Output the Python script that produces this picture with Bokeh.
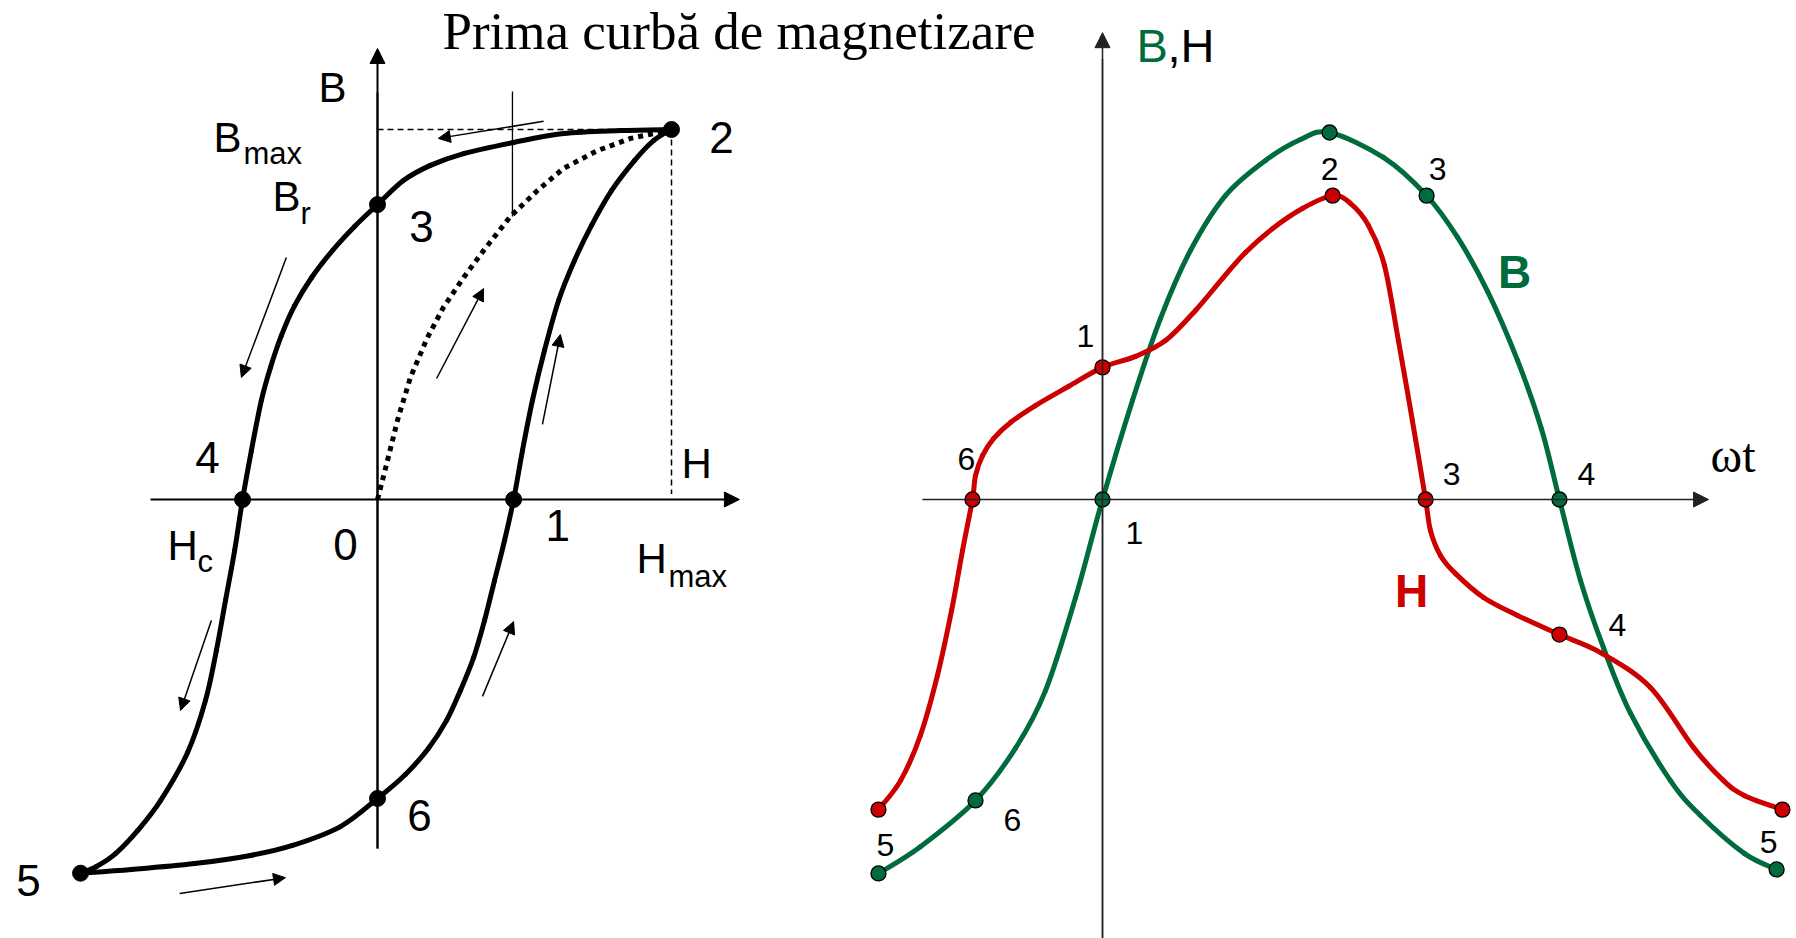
from bokeh.plotting import figure
from bokeh.models import Range1d, Arrow, NormalHead, ColumnDataSource
from bokeh.core.properties import value
from bokeh.embed import file_html
from bokeh.resources import INLINE

# ---------------- Hysteresis loop B(H), normalised so H_max = B_max = 1 ----------------
H_MAX = 1.0
B_MAX = 1.0

# descending branch 2 -> 3 -> 4 -> 5
desc_H = [1.0, 0.827, 0.633, 0.463, 0.293, 0.180, 0.088, 0.0, -0.078, -0.153, -0.224,
          -0.282, -0.327, -0.364, -0.395, -0.429, -0.459, -0.486, -0.517, -0.548, -0.585,
          -0.646, -0.738, -0.816, -0.891, -0.956, -1.01]
desc_B = [1.0, 0.997, 0.989, 0.965, 0.935, 0.903, 0.862, 0.797, 0.738, 0.673, 0.600,
          0.524, 0.443, 0.357, 0.268, 0.132, 0.0, -0.138, -0.273, -0.408, -0.543,
          -0.684, -0.814, -0.895, -0.957, -0.992, -1.01]

# ascending branch 5 -> 6 -> 1 -> 2
asc_H = [-1.01, -0.837, -0.622, -0.432, -0.289, -0.126, 0.0, 0.095, 0.173, 0.235, 0.282,
         0.327, 0.364, 0.398, 0.432, 0.463, 0.493, 0.527, 0.568, 0.616, 0.670, 0.728,
         0.796, 0.874, 0.939, 1.0]
asc_B = [-1.01, -1.0, -0.984, -0.962, -0.935, -0.884, -0.808, -0.743, -0.673, -0.597, -0.516,
         -0.427, -0.327, -0.219, -0.111, 0.0, 0.132, 0.268, 0.403, 0.538, 0.646, 0.741,
         0.835, 0.916, 0.970, 1.0]

# first magnetisation curve 0 -> 2
init_H = [0.0, 0.034, 0.068, 0.112, 0.170, 0.224, 0.293, 0.361, 0.452, 0.544, 0.633,
          0.748, 0.861, 0.939, 1.0]
init_B = [0.0, 0.105, 0.214, 0.330, 0.438, 0.519, 0.600, 0.673, 0.765, 0.835, 0.895,
          0.943, 0.976, 0.989, 1.0]

loop_labels = ["1", "2", "3", "4", "5", "6"]
loop_H = [0.463, 1.0, 0.0, -0.459, -1.01, 0.0]
loop_B = [0.0, 1.0, 0.797, 0.0, -1.01, -0.808]
loop_dx = [44, 50, 44, -35, -52, 42]
loop_dy = [26, 8, 22, -42, 7, 17]

# ---------------- B(wt) and H(wt), wt in degrees ----------------
wt_B = [-88.2, -71.7, -50.0, -34.3, -22.4, -10.6, 0.0, 11.8, 22.8, 34.6, 48.4, 64.2, 78.0,
        89.4, 110.6, 127.6, 139.8, 151.6, 163.4, 172.8, 179.9, 188.2, 197.2, 207.9,
        223.6, 235.4, 252.8, 265.4]
B_t = [-1.019, -0.946, -0.820, -0.678, -0.520, -0.267, 0.0, 0.270, 0.493, 0.678, 0.828,
       0.924, 0.981, 1.0, 0.932, 0.828, 0.714, 0.567, 0.379, 0.193, 0.0, -0.221, -0.403,
       -0.583, -0.766, -0.861, -0.965, -1.008]

wt_H = [-88.2, -79.5, -71.7, -65.0, -59.4, -55.1, -51.2, -50.0, -47.2, -42.9, -36.2, -26.4,
        -13.4, 0.0, 13.0, 24.8, 36.6, 47.2, 56.3, 66.9, 78.7, 90.6, 97.6, 104.7, 111.0,
        116.5, 122.0, 127.2, 129.1, 133.1, 139.0, 150.0, 163.4, 179.9, 196.1, 215.7,
        232.7, 244.5, 252.8, 267.7]
H_t = [-0.845, -0.766, -0.643, -0.480, -0.302, -0.139, 0.0, 0.065, 0.120, 0.166, 0.210,
       0.256, 0.308, 0.360, 0.390, 0.433, 0.515, 0.602, 0.673, 0.738, 0.793, 0.828, 0.807,
       0.747, 0.638, 0.433, 0.215, 0.0, -0.084, -0.153, -0.202, -0.267, -0.316, -0.368,
       -0.417, -0.512, -0.676, -0.766, -0.807, -0.845]

B_pt_wt = [-88.2, -50.0, 0.0, 89.4, 127.6, 179.9, 265.4]
B_pt_val = [-1.019, -0.820, 0.0, 1.0, 0.828, 0.0, -1.008]
B_pt_labels = ["5", "6", "1", "2", "3", "4", "5"]
B_pt_dx = [7, 37, 32, 0, 11, 27, -8]
B_pt_dy = [-28, 20, 33, 36, -27, -26, -27]

H_pt_wt = [-88.2, -51.2, 0.0, 90.6, 127.2, 179.9, 267.7]
H_pt_val = [-0.845, 0.0, 0.360, 0.828, 0.0, -0.368, -0.845]
H_pt_labels = ["", "6", "1", "", "3", "4", ""]
H_pt_dx = [0, -6, -17, 0, 26, 58, 0]
H_pt_dy = [0, -41, -31, 0, -26, -10, 0]

GREEN = "#006B3C"
RED = "#CC0000"
SANS = "Liberation Sans"
SERIF = "Liberation Serif"

p = figure(width=1796, height=938, output_backend="svg", toolbar_location=None,
           x_axis_type=None, y_axis_type=None, min_border=0,
           x_range=Range1d(-377 / 294, 1419 / 294), y_range=Range1d(-439 / 370, 499 / 370))
p.extra_x_ranges = {"wt": Range1d(-1102 / 2.54, 694 / 2.54)}
p.extra_y_ranges = {"bh": Range1d(-439 / 367, 499 / 367)}
p.grid.visible = False
p.outline_line_color = None
p.background_fill_color = "white"
p.border_fill_color = "white"


def smooth_curve(xs, ys, color, width, xr="default", yr="default"):
    """Draw a curve through the given points as Catmull-Rom cubic Bezier pieces."""
    n = len(xs)
    seg = dict(x0=[], y0=[], x1=[], y1=[], cx0=[], cy0=[], cx1=[], cy1=[])
    for i in range(n - 1):
        a = i - 1 if i > 0 else i
        d = i + 2 if i + 2 < n else i + 1
        seg["x0"].append(xs[i])
        seg["y0"].append(ys[i])
        seg["x1"].append(xs[i + 1])
        seg["y1"].append(ys[i + 1])
        seg["cx0"].append(xs[i] + (xs[i + 1] - xs[a]) / 6)
        seg["cy0"].append(ys[i] + (ys[i + 1] - ys[a]) / 6)
        seg["cx1"].append(xs[i + 1] - (xs[d] - xs[i]) / 6)
        seg["cy1"].append(ys[i + 1] - (ys[d] - ys[i]) / 6)
    p.bezier(source=ColumnDataSource(seg), x0="x0", y0="y0", x1="x1", y1="y1",
             cx0="cx0", cy0="cy0", cx1="cx1", cy1="cy1", line_color=color,
             line_width=width, line_cap="round", x_range_name=xr, y_range_name=yr)


def arrow(x0, y0, x1, y1, width=1.5, head=12, color="black", xr="default", yr="default"):
    p.add_layout(Arrow(x_start=x0, y_start=y0, x_end=x1, y_end=y1, line_width=width,
                       line_color=color, x_range_name=xr, y_range_name=yr,
                       end=NormalHead(size=head, fill_color=color, line_color=color,
                                      line_width=1)))


def text(x, y, s, size, color="black", font=SANS, style="normal", align="center",
         dx=0, dy=0, xr="default", yr="default"):
    p.text(x=[x], y=[y], text=[s], text_font=value(font), text_font_size=f"{size}px",
           text_color=color, text_font_style=style, text_align=align,
           text_baseline="middle", x_offset=dx, y_offset=dy,
           x_range_name=xr, y_range_name=yr)


# ---- left panel: axes ----
arrow(-0.772, 0, 1.231, 0, width=2, head=15)
p.line([0, 0], [-0.943, 1.10], line_width=2, line_color="black")
arrow(0, -0.943, 0, 1.219, width=2, head=15)

# guide lines to the saturation point
p.line([0, H_MAX], [B_MAX, B_MAX], line_dash="6 4", line_width=1.5, line_color="black")
p.line([H_MAX, H_MAX], [B_MAX, 0.015], line_dash="6 4", line_width=1.5, line_color="black")

# loop and first magnetisation curve
smooth_curve(desc_H, desc_B, "black", 5)
smooth_curve(asc_H, asc_B, "black", 5)
p.line(init_H, init_B, line_width=5, line_color="black", line_dash="5 5", line_cap="butt")

# leader from the caption to the first magnetisation curve
p.line([init_H[8] + 0.007, init_H[8] + 0.007], [init_B[8], 1.103], line_width=1.3,
       line_color="black")

loop_src = ColumnDataSource(dict(x=loop_H, y=loop_B, t=loop_labels, dx=loop_dx, dy=loop_dy))
p.scatter("x", "y", source=loop_src, size=16, marker="circle", fill_color="black",
          line_color="black")
p.text("x", "y", text="t", source=loop_src, x_offset="dx", y_offset="dy",
       text_font=value(SANS), text_font_size="44px", text_align="center",
       text_baseline="middle", text_color="black")

# direction arrows along the loop
arrow(0.565, 1.022, 0.207, 0.976)
arrow(-0.310, 0.654, -0.463, 0.330)
arrow(0.201, 0.327, 0.361, 0.570)
arrow(0.561, 0.203, 0.622, 0.446)
arrow(-0.565, -0.327, -0.670, -0.570)
arrow(-0.673, -1.065, -0.313, -1.022)
arrow(0.357, -0.532, 0.463, -0.330)

# axis and level labels
text(0, B_MAX, "B", 42, dx=-45, dy=-42)
text(0, B_MAX, "B", 42, align="left", dx=-164, dy=8)
text(0, B_MAX, "max", 31, align="left", dx=-134, dy=24)
text(0, loop_B[2], "B", 42, align="left", dx=-105, dy=-8)
text(0, loop_B[2], "r", 31, align="left", dx=-77, dy=9)
text(loop_H[3], 0, "H", 42, align="left", dx=-75, dy=46)
text(loop_H[3], 0, "c", 31, align="left", dx=-45, dy=62)
text(H_MAX, 0, "H", 42, align="left", dx=-35, dy=59)
text(H_MAX, 0, "max", 31, align="left", dx=-3, dy=77)
text(H_MAX, 0, "H", 42, align="left", dx=10, dy=-36)
text(0, 0, "0", 44, dx=-32, dy=45)
text(0.221, 1.265, "Prima curbă de magnetizare", 53, font=SERIF, align="left")

# ---- right panel: time curves ----
R = dict(x_range_name="wt", y_range_name="bh")
arrow(-70.9, 0, 238.6, 0, width=1.5, head=15, color="#222222", xr="wt", yr="bh")
p.line([0, 0], [-1.2, 1.2], line_width=1.5, line_color="#222222", **R)
arrow(0, -1.2, 0, 1.272, width=1.5, head=15, color="#222222", xr="wt", yr="bh")

smooth_curve(wt_B, B_t, GREEN, 5, xr="wt", yr="bh")
smooth_curve(wt_H, H_t, RED, 5, xr="wt", yr="bh")

b_src = ColumnDataSource(dict(x=B_pt_wt, y=B_pt_val, t=B_pt_labels, dx=B_pt_dx, dy=B_pt_dy))
h_src = ColumnDataSource(dict(x=H_pt_wt, y=H_pt_val, t=H_pt_labels, dx=H_pt_dx, dy=H_pt_dy))
p.scatter("x", "y", source=b_src, size=15, marker="circle", fill_color=GREEN,
          line_color="black", line_width=1.3, **R)
p.scatter("x", "y", source=h_src, size=15, marker="circle", fill_color=RED,
          line_color="black", line_width=1.3, **R)
for src in (b_src, h_src):
    p.text("x", "y", text="t", source=src, x_offset="dx", y_offset="dy",
           text_font=value(SANS), text_font_size="32px", text_align="center",
           text_baseline="middle", text_color="black", **R)

text(0, 1.0, "B", 47, color=GREEN, align="left", dx=34, dy=-87, xr="wt", yr="bh")
text(0, 1.0, ",H", 47, align="left", dx=65, dy=-87, xr="wt", yr="bh")
text(238.6, 0, "ωt", 48, font=SERIF, align="left", dx=2, dy=-44, xr="wt", yr="bh")
text(162.2, 0.621, "B", 46, color=GREEN, style="bold", xr="wt", yr="bh")
text(121.7, -0.248, "H", 46, color=RED, style="bold", xr="wt", yr="bh")

open("out.html", "w").write(file_html(p, INLINE))
